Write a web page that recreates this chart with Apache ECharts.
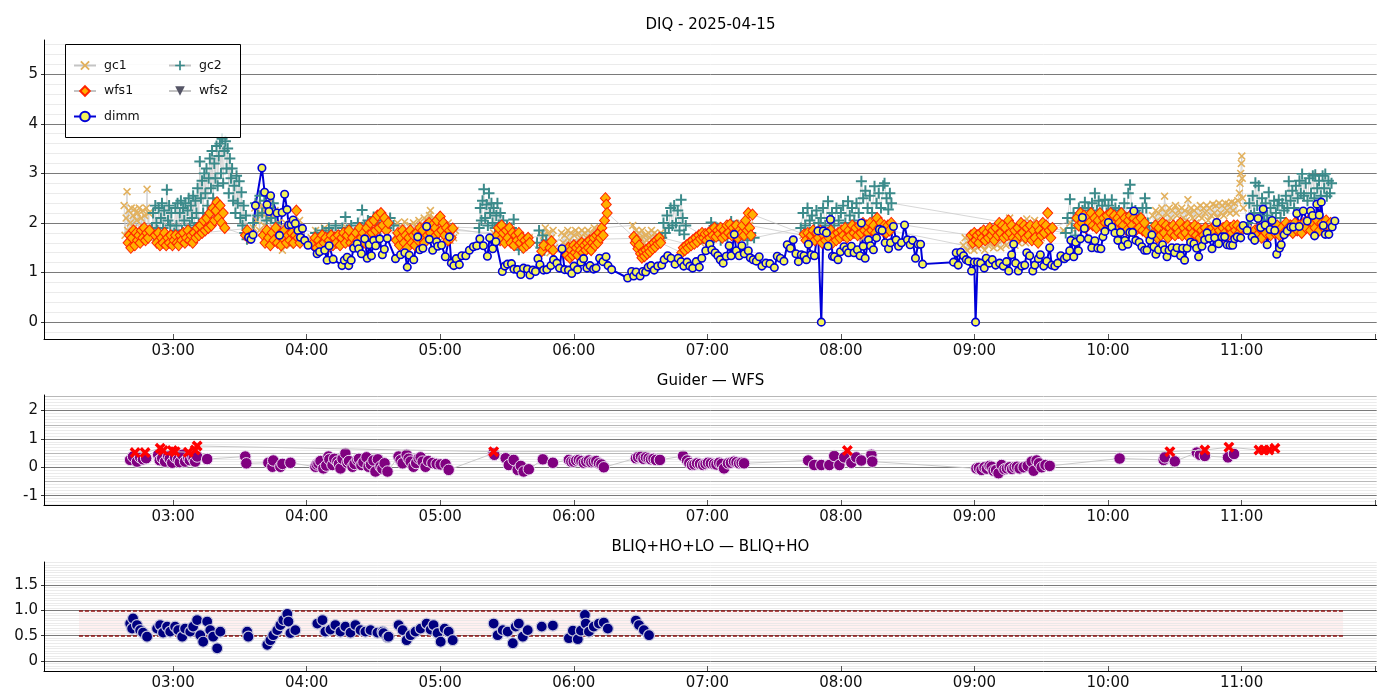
<!DOCTYPE html>
<html>
<head>
<meta charset="utf-8">
<title>DIQ - 2025-04-15</title>
<script src="https://cdn.jsdelivr.net/npm/echarts@6.0.0/dist/echarts.min.js"></script>
<style>
  html, body { margin: 0; padding: 0; background: #fff; }
  #grafico { width: 1400px; height: 700px; }
</style>
</head>
<body>
<div id="grafico"></div>
<script>
// all times are minutes after 00:00 UT

const dimm = [
  [213.9,1.71],[215.0,1.67],[215.9,1.76],[217.0,2.35],[219.9,3.11],[221.1,2.62],[222.2,2.37],[223.1,2.23],[223.8,2.55],
  [226.7,2.20],[227.8,1.75],[229.0,2.21],[230.1,2.58],[231.2,2.27],[231.9,1.96],[233.0,1.97],[233.9,2.06],[234.9,1.99],
  [236.1,1.85],[237.2,1.71],[238.1,1.89],[239.1,1.65],[240.6,1.55],[244.7,1.38],[245.8,1.42],[248.1,1.45],[249.2,1.25],
  [250.1,1.54],[251.9,1.27],[255.9,1.14],[256.9,1.25],[258.2,1.31],[258.9,1.14],[260.0,1.25],[261.1,1.49],[262.7,1.58],
  [263.4,1.48],[264.6,1.38],[266.1,1.68],[267.2,1.29],[268.1,1.56],[269.1,1.34],[270.1,1.65],[271.0,1.54],[272.8,1.68],
  [274.0,1.36],[274.9,1.47],[276.2,1.69],[279.9,1.28],[282.2,1.36],[284.1,1.40],[285.2,1.11],[286.1,1.35],[288.1,1.26],
  [289.9,1.72],[290.8,1.46],[292.2,1.49],[293.9,1.93],[295.1,1.67],[296.6,1.45],[298.4,1.62],[298.9,1.53],[300.6,1.55],
  [302.3,1.32],[304.1,1.72],[305.0,1.19],[306.1,1.14],[307.2,1.28],[308.6,1.16],[309.7,1.34],[311.5,1.34],[313.1,1.45],
  [314.9,1.52],[316.4,1.54],[317.8,1.68],[319.4,1.54],[321.2,1.33],[322.2,1.70],[323.6,1.48],[325.0,1.62],[327.9,1.02],
  [329.0,1.13],[330.2,1.17],[332.0,1.18],[333.1,1.07],[334.7,1.06],[336.2,0.96],[337.4,1.09],[339.2,1.07],[340.3,0.95],
  [341.6,1.05],[342.8,1.02],[343.9,1.28],[344.8,1.16],[346.4,1.05],[347.9,1.06],[349.7,1.14],[350.9,1.26],[352.4,1.19],
  [353.6,1.09],[354.7,1.48],[355.9,1.06],[357.6,1.05],[359.1,0.98],[360.1,1.13],[361.7,1.06],[363.2,1.21],[364.4,1.28],
  [365.9,1.09],[367.3,1.14],[368.9,1.07],[370.0,1.09],[371.6,1.29],[373.1,1.22],[374.5,1.32],[375.4,1.14],[377.0,1.06],
  [384.2,0.89],[386.0,1.02],[386.9,0.93],[388.0,1.01],[389.8,0.93],[391.0,1.02],[392.3,1.01],[393.4,1.11],[394.7,1.14],
  [396.1,1.05],[397.7,1.13],[399.5,1.15],[400.6,1.26],[402.2,1.34],[403.7,1.29],[405.5,1.17],[406.9,1.29],[408.2,1.22],
  [409.4,1.13],[410.9,1.21],[412.1,1.13],[413.4,1.09],[415.0,1.22],[416.4,1.11],[417.5,1.29],[419.3,1.44],[421.1,1.57],
  [422.0,1.46],[423.5,1.40],[424.7,1.34],[425.8,1.26],[427.1,1.19],[428.5,1.33],[429.8,1.54],[430.7,1.34],[432.1,1.77],
  [433.0,1.44],[434.3,1.34],[435.5,1.54],[436.6,1.38],[438.4,1.44],[439.3,1.30],[440.6,1.26],[442.0,1.23],[443.3,1.32],
  [444.5,1.13],[446.3,1.19],[448.1,1.18],[450.1,1.10],[451.4,1.33],[452.8,1.29],[454.4,1.23],[455.9,1.56],[457.3,1.49],
  [458.6,1.66],[459.8,1.38],[460.9,1.22],[462.2,1.36],[463.4,1.34],[464.5,1.26],[465.4,1.57],[466.7,1.36],[468.1,1.34],
  [469.7,1.84],[471.2,0.00],[472.1,1.84],[473.5,1.80],[474.2,1.53],[475.3,2.07],[476.2,1.33],[477.1,1.32],[478.7,1.26],
  [479.8,1.42],[481.4,1.52],[482.5,1.46],[483.4,1.40],[484.7,1.53],[485.9,1.40],[487.4,1.46],[488.6,1.34],[489.2,2.00],
  [490.0,1.53],[490.9,1.29],[492.4,1.66],[493.3,1.54],[494.6,1.46],[496.0,1.70],[497.3,1.87],[498.5,1.85],[499.9,1.60],
  [501.4,1.48],[502.3,1.60],[503.6,1.93],[504.8,1.66],[505.9,1.53],[507.2,1.60],[508.6,1.96],[509.9,1.66],[511.1,1.56],
  [512.2,1.65],[513.5,1.29],[514.7,1.57],[515.8,1.57],[516.7,1.17],[530.6,1.21],[531.8,1.40],[532.7,1.15],[533.8,1.41],
  [535.1,1.34],[536.3,1.26],[537.4,1.23],[538.7,1.03],[539.9,1.21],[540.5,0.00],[541.4,1.21],[542.8,1.19],[544.4,1.09],
  [545.3,1.29],[546.8,1.19],[548.0,1.26],[549.5,1.15],[551.3,1.19],[552.9,1.13],[554.4,1.22],[555.4,1.03],[556.7,1.36],
  [557.6,1.57],[558.5,1.19],[559.7,1.03],[561.2,1.13],[562.6,1.15],[563.5,1.40],[564.8,1.34],[566.2,1.03],[567.1,1.15],
  [568.7,1.28],[569.6,1.36],[571.1,1.13],[572.5,1.23],[573.8,1.50],[574.7,1.15],[576.1,1.13],[577.4,1.19],[578.8,1.34],
  [580.4,1.28],[581.5,1.32],[582.8,1.44],[583.3,1.65],[584.6,1.32],[585.5,1.61],[586.7,1.44],[587.6,1.68],[588.5,2.11],
  [589.4,1.89],[591.2,1.68],[592.7,1.50],[594.1,1.64],[595.4,1.49],[596.8,1.48],[597.7,1.72],[598.6,1.83],[600.2,2.01],
  [601.7,1.92],[603.1,1.80],[604.4,1.65],[605.6,1.81],[606.5,1.53],[607.6,1.65],[608.9,1.57],[609.8,1.81],[611.0,1.81],
  [611.6,2.24],[612.5,1.65],[614.0,1.61],[615.2,1.52],[616.4,1.45],[617.5,1.45],[618.8,1.65],[619.7,1.76],[620.6,1.52],
  [621.5,1.37],[622.7,1.46],[624.5,1.56],[625.4,1.46],[626.5,1.32],[627.4,1.45],[628.7,1.50],[629.9,1.40],[631.0,1.50],
  [632.6,1.34],[633.5,1.49],[634.4,1.25],[635.5,1.49],[637.1,1.61],[638.6,1.58],[639.8,1.49],[640.7,1.32],[642.2,1.53],
  [643.4,1.66],[644.5,1.80],[645.4,1.69],[646.7,1.48],[647.9,1.70],[648.8,2.01],[649.7,1.58],[651.2,1.72],[652.4,1.72],
  [653.5,1.56],[654.8,1.55],[656.0,1.55],[656.9,1.68],[658.0,1.72],[659.6,1.70],[660.7,1.95],[662.5,1.85],[663.8,2.11],
  [664.7,1.72],[665.9,1.65],[667.4,2.09],[668.6,1.91],[669.7,2.28],[670.6,1.96],[671.5,1.56],[672.8,1.87],[673.7,2.05],
  [674.9,1.85],[675.8,1.37],[677.0,1.49],[677.8,1.56],[679.1,1.76],[680.5,1.84],[682.1,1.92],[683.2,1.92],[684.8,2.19],
  [685.9,1.93],[687.7,2.24],[689.5,2.04],[691.0,2.24],[691.9,2.15],[692.8,1.74],[693.8,2.38],[694.9,2.16],[695.8,2.42],
  [696.7,1.95],[697.6,1.77],[699.2,1.77],[700.7,1.92],[701.9,2.04]
];

const gc1 = [
  [158.0,2.35],[158.4,1.75],[158.9,2.10],[159.3,2.63],[159.6,1.85],[160.0,2.25],[160.4,1.65],[160.8,2.00],[161.2,2.30],
  [161.6,1.80],[162.0,2.15],[162.4,1.90],[162.8,2.28],[163.2,1.70],[163.6,2.05],[164.0,2.20],[164.4,1.85],[164.8,2.30],
  [165.2,1.62],[165.6,2.10],[166.0,1.95],[166.4,2.25],[166.8,1.75],[167.2,2.15],[167.6,1.88],[168.0,2.30],[168.3,2.68],
  [168.7,1.90],[169.1,2.20],[169.5,1.70],
  [216.0,1.90],[216.7,2.30],[217.4,2.05],[218.1,2.40],[218.8,1.85],[219.5,2.20],[220.2,2.35],[220.9,1.95],[221.6,2.25],
  [222.3,2.10],[223.0,2.40],[223.7,1.80],[224.4,2.15],[225.1,1.90],[225.8,2.25],[226.5,1.70],[227.2,2.00],[227.9,1.60],
  [228.6,1.85],[229.1,1.45],[229.8,1.75],[230.5,2.00],[231.2,1.65],[231.9,1.90],[232.6,1.55],[233.3,1.80],[234.0,1.95],
  [234.7,1.60],[235.4,1.85],[236.1,1.70],[236.8,2.05],[237.5,1.75],
  [242,1.70],[244,1.85],[246,1.60],[248,1.90],[250,1.65],[252,1.80],[254,1.55],[256,1.75],[258,1.90],[260,1.60],
  [262,1.80],[264,1.70],[266,1.95],[268,1.75],[270,2.00],[272,1.85],[274,2.10],[276,1.90],
  [280.0,1.75],[280.8,2.00],[281.6,1.60],[282.4,1.90],[283.2,1.70],[284.0,2.02],[284.8,1.55],[285.6,1.85],[286.4,1.95],
  [287.2,1.65],[288.0,2.00],[288.8,1.75],[289.6,1.90],[290.4,2.05],[291.2,1.70],[292.0,1.95],[292.8,2.10],[293.6,1.80],
  [294.4,2.05],[295.2,2.15],[295.6,2.25],[296.4,1.90],[297.2,2.10],[298.0,1.75],[298.8,2.00],[299.6,1.85],[300.4,2.05],
  [301.2,1.70],[302.0,1.95],[302.8,1.80],[303.6,2.00],[304.4,1.65],[305.2,1.90],[306.0,1.70],[306.8,1.85],
  [324,1.80],[326,1.65],[328,1.90],[330,1.70],[332,1.85],[334,1.60],[336,1.75],[338,1.55],[340,1.70],
  [346.5,1.75],[347.2,1.90],[347.9,1.55],[348.6,1.80],[349.3,1.40],[350.0,1.70],[350.7,1.85],[351.4,1.50],
  [354.5,1.80],[355.2,1.60],[355.9,1.75],[356.6,1.55],[357.3,1.85],[358.0,1.65],[358.7,1.80],[359.4,1.60],[360.1,1.75],
  [360.8,1.85],[361.5,1.60],[362.2,1.80],[362.9,1.70],[363.6,1.85],[364.3,1.65],[365.0,1.80],[365.7,1.70],[366.4,1.85],
  [367.1,1.65],[367.8,1.80],[368.5,1.75],[369.2,1.90],[369.9,1.70],[370.6,1.85],[371.3,1.75],[372.0,1.90],
  [386.5,1.95],[387.2,1.70],[387.9,1.85],[388.6,1.65],[389.3,1.80],[390.0,1.70],[390.7,1.85],[391.4,1.60],[392.1,1.75],
  [392.8,1.65],[393.5,1.80],[394.2,1.70],[394.9,1.85],[395.6,1.65],[396.3,1.80],[397.0,1.70],[397.7,1.75],[398.4,1.65],
  [399.1,1.80],[399.8,1.70],
  [413,1.55],[415,1.70],[417,1.60],[419,1.80],[421,1.70],[423,1.90],[425,1.75],[427,1.95],[429,1.80],[431,1.90],
  [433,1.75],[435,2.00],[437,1.85],[439,1.95],
  [463,1.75],[466,1.65],[469,1.85],[472,1.70],[475,1.80],[478,1.65],[481,1.90],[484,1.75],[487,1.85],[490,1.70],
  [493,1.90],[496,1.80],[499,1.95],[502,1.85],
  [535.0,1.55],[535.8,1.70],[536.6,1.45],[537.4,1.65],[538.2,1.50],[539.0,1.75],[539.8,1.45],[540.6,1.60],[541.4,1.50],
  [542.2,1.70],[543.0,1.55],[543.8,1.65],[544.6,1.45],[545.4,1.70],[546.2,1.55],[547.0,1.60],[547.8,1.75],[548.6,1.50],
  [549.4,1.65],[550.2,1.55],[551.0,1.70],[551.8,1.50],[552.6,1.65],[553.4,1.80],[554.2,1.55],[555.0,1.70],[555.8,2.10],
  [556.6,1.60],[557.4,1.75],[558.2,1.55],[559.0,1.70],[559.8,1.60],[560.6,1.80],[561.4,1.65],[562.2,1.75],[563.0,1.60],
  [563.5,2.08],[564.0,1.85],[565.0,1.70],[566.0,1.80],[567.0,2.05],[568.0,1.75],[569.0,1.90],[570.0,1.70],[571.0,1.85],
  [572.0,1.75],[573.0,1.90],
  [580,1.85],[583,2.00],[586,1.90],[589,2.10],[592,1.95],[595,2.05],[598,1.90],[601,2.10],[604,1.95],[607,2.05],
  [610,1.90],[613,2.00],[616,1.85],
  [620.0,2.15],[620.7,1.95],[621.4,2.25],[622.1,2.05],[622.8,2.20],[623.5,1.95],[624.2,2.30],[624.9,2.10],[625.4,2.54],
  [626.1,2.20],[626.8,2.00],[627.5,2.30],[628.2,2.10],[628.9,2.25],[629.6,1.95],[630.3,2.35],[631.0,2.15],[631.7,2.25],
  [632.4,2.00],[633.1,2.30],[633.8,2.10],[634.5,2.25],[635.2,2.05],[635.9,2.47],[636.6,2.20],[637.3,2.30],[638.0,2.10],
  [638.7,2.25],[639.4,2.00],[640.1,2.30],[640.8,2.15],[641.5,2.35],[642.2,2.10],[642.9,2.30],[643.6,2.20],[644.3,2.35],
  [645.0,2.05],[645.7,2.30],[646.4,2.15],[647.1,2.38],[647.8,2.20],[648.5,2.35],[649.2,2.10],[649.9,2.40],[650.6,2.20],
  [651.3,2.35],[652.0,2.15],[652.7,2.40],[653.4,2.25],[654.1,2.38],[654.8,2.20],[655.5,2.42],[656.2,2.25],[656.9,2.40],
  [657.6,2.20],[658.3,2.45],[659.0,2.60],[659.3,2.80],[659.6,3.00],[659.9,3.20],[660.1,3.35],[660.3,2.90],[660.5,2.50],
  [660.8,2.30],
  [665,1.90],[668,2.00],[671,1.85],[674,1.95],[677,1.80],[680,1.90],[683,2.00],[686,1.85],[689,1.95],[692,2.05],
  [695,1.90],[698,2.00]
];

const gc2 = [
  [170.5,1.90],[171.0,2.20],[171.5,1.75],[172.0,2.35],[172.5,2.00],[173.0,1.85],[173.5,2.30],[174.0,1.70],[174.5,2.10],
  [175.0,2.40],[175.5,1.90],[176.0,2.25],[176.5,1.80],[177.2,2.67],[177.7,2.05],[178.2,2.35],[178.7,1.95],[179.2,2.20],
  [179.7,1.75],
  [180.5,1.80],[181.0,2.30],[181.5,1.95],[182.0,2.40],[182.5,1.70],[183.0,2.20],[183.5,2.45],[184.0,1.85],[184.5,2.30],
  [185.0,2.05],[185.5,2.40],[186.0,1.80],[186.5,2.25],[187.0,2.50],[187.5,1.95],[188.0,2.35],[188.5,2.10],[189.0,2.55],
  [189.5,1.90],[190.0,2.45],[190.5,2.20],[191.0,2.70],[191.5,2.00],[192.0,3.24],[192.5,2.50],[193.0,2.85],[193.5,2.20],
  [194.0,3.00],[194.5,2.60],[195.0,3.10],[195.5,2.35],[196.0,2.90],[196.5,3.30],[197.0,2.70],[197.5,3.45],[198.0,2.50],
  [198.5,3.20],[199.0,2.90],[199.5,3.55],[200.0,2.75],[200.5,3.35],[201.0,3.60],[201.5,3.00],[202.0,3.70],[202.5,2.80],
  [203.0,3.45],[203.5,3.65],[204.0,3.10],[204.5,3.50],[205.0,2.60],[205.5,3.30],[206.0,2.90],[206.5,3.10],[207.0,2.45],
  [207.5,2.75],[208.0,2.20],[208.5,2.95],[209.0,2.40],[209.7,2.84],[210.2,2.10],[210.7,2.62],[211.2,1.95],[211.7,2.35],
  [212.2,1.80],[212.7,2.15],[213.2,1.67],
  [216,2.00],[217,2.40],[218,2.15],[219,2.55],[220,2.20],[221,2.45],[222,2.05],[223,2.30],[224,2.10],[225,2.40],[226,2.00],
  [244.0,1.80],[245.5,1.70],[247.0,1.85],[248.5,1.75],[250.0,1.90],[251.5,1.80],[253.0,1.95],[254.5,1.75],[256.0,1.90],
  [257.4,2.12],[258.5,1.85],[260.0,1.95],[261.5,1.80],[263.0,2.00],[264.9,2.26],[266.0,1.95],[267.5,2.05],[269.0,1.90],
  [270.1,2.12],[271.5,2.00],[273.0,1.85],[274.5,2.05],[276.0,1.90],[277.5,2.10],[279.0,1.95],
  [317.5,1.90],[318.0,2.30],[318.5,2.05],[319.0,2.45],[319.6,2.68],[320.2,2.10],[320.8,2.37],[321.4,1.95],[321.9,2.60],
  [322.4,2.20],[323.0,2.40],[323.5,2.00],[324.0,2.30],[324.6,1.90],[325.2,2.15],[325.7,2.40],[326.3,1.95],[327.0,2.20],
  [327.6,1.85],[328.3,2.05],[329.0,1.80],[330.0,1.95],[331.0,1.75],[332.0,1.90],[333.0,2.07],[334.0,1.70],[335.3,1.46],
  [336.0,1.65],[337.0,1.50],
  [343.5,1.60],[344.4,1.85],[345.2,1.50],[346.0,1.75],[346.8,1.45],[347.6,1.65],
  [399.5,1.70],[400.3,2.00],[401.1,1.80],[401.9,2.15],[402.7,1.90],[403.5,2.30],[404.3,1.95],[405.1,2.35],[405.9,2.00],
  [406.7,2.25],[407.5,1.85],[408.2,2.47],[408.9,2.10],[409.6,1.77],[410.3,1.95],
  [418.0,1.75],[419.5,1.60],[421.0,1.85],[421.7,2.01],[423.0,1.70],[424.5,1.90],[426.0,1.65],[427.5,1.85],[429.0,1.70],
  [430.7,2.03],[432.0,1.80],[433.5,1.95],[435.0,1.75],[436.5,1.85],[438.0,1.65],[439.5,1.80],[441.0,1.70],
  [462,1.90],[463,2.20],[464,1.95],[465,2.30],[466,2.05],[467,2.15],[468,1.90],[469,2.25],[470,2.00],[471,2.10],
  [472,2.30],[473,1.95],[474.2,2.44],[475,2.10],[476,2.20],[477,1.95],[478,2.30],[479,2.05],[480,2.20],[481,2.35],
  [482,2.00],[483.2,2.44],[484,2.15],[485,2.30],[486,2.05],[487,2.40],[488,2.20],[489.2,2.84],[490,2.50],[491,2.65],
  [492,2.30],[493,2.55],[494,2.20],[495.1,2.74],[496,2.40],[497,2.60],[498,2.30],[499,2.75],[499.6,2.80],[500.5,2.50],
  [501.3,2.27],[502,2.60],[502.7,2.40],
  [581.0,1.80],[581.8,2.10],[582.9,2.48],[583.7,1.90],[584.5,2.20],[585.3,1.75],[586.1,2.05],[586.9,2.30],[587.7,1.95],
  [588.5,2.25],[589.6,2.42],[590.4,2.05],[591.2,2.30],[592.0,2.15],[592.8,2.40],[593.5,2.10],[594.1,2.60],[595.0,2.25],
  [595.8,2.45],[596.6,2.10],[597.4,2.35],[598.6,2.47],[599.4,2.20],[600.2,2.35],[601.0,2.10],[601.7,2.47],[602.5,2.20],
  [603.3,2.30],[604.1,2.05],[604.9,2.25],[605.7,1.95],[606.5,2.20],[607.3,2.40],[608.1,2.10],[609.1,2.60],[609.9,2.77],
  [610.7,2.30],[611.5,2.10],[612.3,2.25],[613.1,1.90],[613.9,2.15],[614.7,2.00],[615.5,2.30],[616.6,2.50],[617.2,2.30],
  [617.9,2.00],[618.6,1.85],
  [662.8,2.00],[663.5,2.40],[664.2,2.15],[665.0,2.55],[665.7,2.20],[666.2,2.81],[667.0,2.35],[667.7,2.75],[668.5,2.20],
  [669.2,2.50],[670.0,2.05],[670.8,2.40],[671.5,2.15],[672.2,2.62],[673.0,2.30],[673.8,2.10],[674.6,2.45],[675.4,2.20],
  [676.2,2.35],[676.7,2.47],[677.5,2.10],[678.3,2.40],[679.1,2.25],[679.9,2.55],[680.6,2.30],[681.2,2.84],[682.0,2.45],
  [682.8,2.65],[683.6,2.30],[684.4,2.75],[685.2,2.50],[686.0,2.85],[686.6,2.60],[687.2,2.99],[688.0,2.55],[688.8,2.80],
  [689.6,2.45],[690.4,2.90],[691.2,2.60],[692.0,2.95],[692.7,2.50],[693.1,2.97],[694.0,2.70],[694.8,2.85],[695.6,2.55],
  [696.4,2.95],[697.1,2.70],[697.6,2.99],[698.3,2.54],[699.0,2.85],[699.7,2.60],[700.4,2.80]
];

const wfs1 = [
  [159.8,1.60],[160.4,1.75],[161.0,1.50],[161.6,1.70],[162.2,1.85],[162.8,1.55],[163.4,1.80],[164.0,1.65],[164.6,1.75],
  [165.2,1.60],[165.8,1.85],[166.4,1.70],[167.0,1.90],[167.6,1.65],[168.2,1.80],[168.8,1.70],[169.4,1.85],
  [172.0,1.75],[172.7,1.60],[173.4,1.80],[174.1,1.55],[174.8,1.70],[175.5,1.60],[176.2,1.80],[176.9,1.55],[177.6,1.70],
  [178.3,1.60],[179.0,1.75],[179.7,1.55],[180.4,1.65],[181.1,1.75],[181.8,1.60],[182.5,1.55],[183.2,1.75],[183.9,1.65],
  [184.6,1.80],[185.3,1.60],[186.0,1.70],[186.7,1.85],[187.4,1.65],[188.1,1.75],[188.8,1.60],[189.5,1.80],[190.2,1.70],
  [190.9,1.90],[191.6,1.75],[192.3,1.95],[193.0,1.80],[193.7,2.05],[194.4,1.85],[195.1,2.10],[195.8,1.90],[196.5,2.20],
  [197.2,1.95],[197.9,2.30],[198.6,2.05],[199.3,2.25],[199.7,2.42],[200.4,2.10],[201.1,2.35],[201.8,2.00],[202.5,2.20],
  [203.2,1.90],
  [212.5,1.75],[213.3,1.85],[214.0,1.70],
  [220.5,1.75],[221.3,1.60],[222.1,1.85],[222.9,1.70],[223.7,1.55],[224.5,1.80],[225.3,1.65],[226.1,1.90],[226.9,1.60],
  [227.7,1.75],[228.5,1.55],[229.3,1.70],[230.1,1.85],[230.9,1.60],[231.7,1.75],[232.5,1.65],[233.3,1.80],[234.1,1.60],
  [234.9,1.75],[235.4,2.25],[236.2,1.70],[237.0,1.60],
  [243.0,1.60],[243.8,1.70],[244.6,1.50],[245.4,1.65],[246.2,1.55],[247.0,1.75],[247.8,1.60],[248.6,1.70],[249.4,1.50],
  [250.2,1.65],[251.0,1.75],[251.8,1.55],[252.6,1.70],[253.4,1.60],[254.2,1.75],[255.0,1.55],[255.8,1.70],[256.6,1.80],
  [257.4,1.60],[258.2,1.75],[259.0,1.85],[259.8,1.60],[260.6,1.70],[261.4,1.55],[262.2,1.80],[263.0,1.65],[263.8,1.90],
  [264.6,1.70],[265.4,1.80],[266.2,1.60],[267.0,1.90],[267.8,1.75],[268.6,2.00],[269.4,1.80],[270.2,2.05],[271.0,1.85],
  [271.8,2.15],[272.6,1.90],[273.4,2.20],[274.2,1.95],[275.0,2.10],[275.8,1.85],[276.6,2.00],
  [280.3,1.65],[281.0,1.80],[281.7,1.55],[282.4,1.70],[283.1,1.85],[283.8,1.60],[284.5,1.75],[285.2,1.50],[285.9,1.70],
  [286.6,1.85],[287.3,1.60],[288.0,1.75],[288.7,1.55],[289.4,1.80],[290.1,1.65],[290.8,1.90],[291.5,1.70],[292.2,1.85],
  [292.9,1.60],[293.6,1.95],[294.3,1.75],[295.0,2.00],[295.7,1.80],[296.4,1.95],[297.1,1.70],[297.8,1.90],[298.5,2.05],
  [299.2,1.80],[300.0,2.13],[300.7,1.85],[301.4,2.00],[302.1,1.75],[302.8,1.90],[303.5,1.65],[304.2,1.85],[304.9,1.70],
  [305.6,1.89],
  [325.5,1.75],[326.2,1.90],[326.9,1.65],[327.6,1.95],[328.3,1.80],[329.0,1.60],[329.7,1.85],[330.4,1.70],[331.1,1.90],
  [331.8,1.60],[332.5,1.80],[333.2,1.55],[333.9,1.75],[334.6,1.65],[335.3,1.80],[336.0,1.60],[336.7,1.70],[337.4,1.50],
  [338.1,1.65],[338.8,1.55],[339.5,1.70],[340.2,1.60],
  [345.6,1.43],[346.5,1.55],[349.3,1.50],[350.0,1.63],[350.7,1.45],
  [357.0,1.35],[357.6,1.50],[358.2,1.30],[358.8,1.45],[359.4,1.35],[360.0,1.55],[360.6,1.40],[361.2,1.50],[361.8,1.35],
  [362.4,1.55],[363.0,1.45],[363.6,1.60],[364.2,1.40],[364.8,1.55],[365.4,1.45],[366.0,1.60],[366.6,1.50],[367.2,1.65],
  [367.8,1.45],[368.4,1.60],[369.0,1.70],[369.6,1.55],[370.2,1.75],[370.8,1.60],[371.4,1.80],[372.0,1.70],[372.6,1.90],
  [373.2,1.75],[373.8,2.05],[374.2,2.50],[374.6,2.37],[375.0,2.20],
  [387.0,1.72],[387.6,1.60],[388.2,1.65],[388.8,1.48],[389.4,1.55],[390.0,1.38],[390.6,1.30],[391.2,1.42],[391.8,1.33],
  [392.4,1.45],[393.0,1.38],[393.6,1.50],[394.2,1.42],[394.8,1.55],[395.4,1.48],[396.0,1.60],[396.6,1.52],[397.2,1.65],
  [397.8,1.58],[398.4,1.70],[399.0,1.60],
  [408.5,1.40],[409.2,1.50],[409.9,1.45],[410.6,1.55],[411.3,1.50],[412.0,1.60],[412.7,1.55],[413.4,1.65],[414.1,1.58],
  [414.8,1.70],[415.5,1.62],[416.2,1.75],[416.9,1.68],[417.6,1.80],[418.3,1.70],[419.0,1.78],[419.7,1.65],[420.4,1.80],
  [421.1,1.70],[421.8,1.85],[422.5,1.75],[423.2,1.90],[423.9,1.72],[424.6,1.85],[425.3,1.78],[426.0,1.90],[426.7,1.70],
  [427.4,1.85],[428.1,1.75],[428.8,1.95],[429.5,1.80],[430.2,1.97],[430.9,1.75],[431.6,1.90],[432.3,1.80],[433.0,1.95],
  [433.7,1.70],[434.4,1.85],[435.1,1.78],[435.8,1.95],[436.5,1.75],[437.2,2.05],[437.9,1.85],[438.4,2.20],[439.0,1.90],
  [439.6,1.75],[440.3,2.17],
  [463.5,1.77],[464.3,1.65],[465.1,1.80],[465.9,1.60],[466.7,1.75],[467.5,1.85],[468.3,1.65],[469.1,1.80],[469.9,1.70],
  [470.7,1.85],[471.5,1.60],[472.3,1.75],[473.1,1.65],[473.9,1.80],[474.7,1.70],[475.5,1.85],[476.3,1.60],[477.1,1.75],
  [477.9,1.65],[478.7,1.80],[479.5,1.70],[480.3,1.85],[481.1,1.75],[481.9,1.90],[482.7,1.70],[483.5,1.85],[484.3,1.75],
  [485.1,1.95],[485.9,1.80],[486.7,1.90],[487.5,1.75],[488.3,1.95],[489.1,1.80],[489.9,2.00],[490.7,1.85],[491.5,1.95],
  [492.3,1.80],[493.1,2.00],[493.9,1.85],[494.7,1.95],[495.5,1.80],[496.3,2.10],[497.1,1.90],[497.9,2.00],[498.7,1.85],
  [499.5,1.95],[500.3,1.80],[501.1,1.95],[501.9,1.85],[502.6,2.00],
  [538.5,1.75],[539.2,1.60],[539.9,1.80],[540.6,1.65],[541.3,1.75],[542.0,1.60],[542.7,1.80],[543.4,1.70],[544.1,1.85],
  [544.8,1.65],[545.5,1.80],[546.2,1.70],[546.9,1.90],[547.6,1.75],[548.3,1.85],[549.0,1.65],[549.7,1.90],[550.4,1.75],
  [551.1,2.00],[551.8,1.80],[552.5,1.95],[553.2,1.70],[553.9,1.90],[554.6,1.75],[555.3,2.05],[556.0,1.80],[556.7,1.95],
  [557.4,1.70],[558.1,1.85],[558.8,1.65],[559.5,1.90],[560.2,1.75],[560.9,2.00],[561.6,1.80],[562.3,1.95],[563.0,1.70],
  [563.7,1.90],[564.4,1.75],[565.1,1.95],[565.8,1.65],[566.5,1.85],[567.2,1.70],[567.9,1.95],[568.6,1.60],[569.3,1.85],
  [570.0,1.75],[570.7,2.00],[571.4,1.80],[572.1,1.95],[572.9,2.20],[573.6,1.85],[574.3,1.70],[575.0,1.90],
  [586.0,2.10],[586.8,1.95],[587.6,2.20],[588.4,2.00],[589.2,2.15],[590.0,1.90],[590.8,2.10],[591.6,2.00],[592.4,2.20],
  [593.2,1.95],[594.0,2.10],[594.8,1.90],[595.6,2.05],[596.4,2.20],[597.2,1.95],[598.0,2.10],[598.8,2.00],[599.6,2.15],
  [600.4,1.95],[601.2,2.20],[602.0,2.05],[602.8,2.15],[603.6,1.90],[604.4,2.10],[605.2,2.00],[606.0,2.20],[606.8,1.95],
  [607.6,2.10],[608.4,1.85],[609.2,2.05],[610.0,2.15],[610.8,1.95],[611.6,2.10],[612.4,1.85],[613.2,2.05],[614.0,1.90],
  [614.8,2.10],[615.6,1.85],[616.4,2.00],[617.2,1.80],
  [620.5,1.80],[621.3,1.95],[622.1,1.70],[622.9,1.90],[623.7,1.75],[624.5,2.00],[625.3,1.80],[626.1,1.95],[626.9,1.70],
  [627.7,1.90],[628.5,1.80],[629.3,1.95],[630.1,1.75],[630.9,1.90],[631.7,1.80],[632.5,2.00],[633.3,1.75],[634.1,1.90],
  [634.9,1.80],[635.7,1.95],[636.5,1.70],[637.3,1.90],[638.1,1.80],[638.9,1.95],[639.7,1.75],[640.5,1.90],[641.3,1.70],
  [642.1,1.85],[642.9,1.75],[643.7,1.90],[644.5,1.70],[645.3,1.85],[646.1,1.75],[646.9,1.90],[647.7,1.80],[648.5,1.95],
  [649.3,1.75],[650.1,1.85],[650.9,1.70],[651.7,1.90],[652.5,1.80],[653.3,1.95],[654.1,1.75],[654.9,1.90],[655.7,1.80],
  [656.5,1.95],[657.3,1.85],[658.1,1.95],[658.9,1.80],[659.7,1.90],
  [666,1.85],[667,1.75],[668,1.90],[669,1.70],[670,1.85],[671,1.80],[672,1.95],[673,1.75],[674,1.90],[675,1.80],
  [676,1.95],[677,1.75],[678,1.90],[679,1.80],[680,2.00],[681,1.85],[682,1.95],[683,1.80],[684,2.00],[685,1.85],
  [686,1.95],[687,1.80],[688,2.00],[689,1.90],[690,2.05],[691,1.85],[692,2.00],[693,1.90],[694,2.05],[695,1.85],
  [696,2.00],[697,1.90],[698,2.05],[699,1.95],[700,2.00]
];

const wfs2 = [];

// Guider — WFS
const guiderWfs = [
  [160.7,0.26],[162.0,0.38],[163.8,0.20],[165.2,0.35],[166.5,0.28],[167.9,0.32],
  [173.3,0.44],[174.0,0.25],[175.1,0.32],[176.4,0.20],[177.8,0.38],[178.5,0.30],[179.6,0.16],[180.9,0.35],[182.3,0.28],
  [183.0,0.18],[184.1,0.44],[185.4,0.20],[186.8,0.32],[187.5,0.25],[188.6,0.40],[189.2,0.30],[189.9,0.20],[190.8,0.38],
  [195.3,0.29],[212.4,0.38],[212.9,0.14],
  [222.8,0.16],[224.6,0.02],[225.0,0.24],[228.2,0.02],[229.1,0.12],[232.7,0.16],
  [243.9,0.02],[244.5,0.10],[245.3,0.14],[246.2,0.22],[247.5,-0.04],[248.8,0.06],[249.8,0.38],[250.2,0.28],[251.6,0.08],
  [252.4,0.30],[253.8,0.20],[254.5,0.12],[255.2,-0.04],[256.1,0.30],[257.4,0.49],[258.3,0.16],[259.0,0.22],[260.6,0.02],
  [261.5,0.12],[262.8,0.26],[263.5,0.30],[264.6,0.08],[265.5,0.18],[266.9,0.35],[267.8,0.02],[268.9,0.10],[270.0,0.24],
  [270.9,-0.15],[272.0,0.28],[273.2,0.02],[274.0,-0.05],[275.0,0.14],[276.3,-0.15],
  [281.3,0.38],[282.2,0.25],[283.1,0.14],[284.9,0.44],[285.8,0.30],[286.7,0.20],[288.0,0.02],[289.2,0.15],[290.3,0.32],
  [291.2,0.35],[292.1,0.20],[293.4,0.02],[294.6,0.22],[296.5,0.15],[298.4,0.12],[300.2,0.10],[302.4,0.11],[303.8,-0.09],
  [323.8,0.49],[324.3,0.44],[329.4,0.32],[330.8,0.08],[333.0,0.26],[334.8,-0.09],[336.2,0.05],[337.5,-0.15],[339.8,-0.07],
  [346.1,0.28],[350.6,0.16],
  [357.8,0.26],[358.9,0.20],[360.0,0.20],[361.1,0.24],[362.3,0.26],[363.4,0.22],[364.5,0.16],[365.6,0.20],[366.8,0.24],
  [367.9,0.18],[369.0,0.20],[370.1,0.22],[371.3,0.14],[372.4,0.10],[373.5,0.00],
  [387.9,0.32],[388.9,0.36],[390.2,0.38],[391.3,0.30],[392.4,0.35],[393.6,0.32],[394.7,0.28],[395.8,0.30],[396.9,0.26],
  [398.7,0.26],
  [409.1,0.40],[410.9,0.24],[411.9,0.15],[413.1,0.08],[414.2,0.10],[415.4,0.14],[416.7,0.12],[418.1,0.08],[419.2,0.12],
  [420.3,0.16],[421.6,0.14],[423.0,0.12],[424.1,0.10],[425.3,0.16],[426.4,0.12],[427.5,-0.04],[429.3,0.14],[430.6,0.16],
  [432.0,0.20],[433.1,0.18],[434.3,0.14],[435.4,0.16],[436.5,0.14],
  [465.3,0.24],[468.0,0.08],[471.2,0.08],[474.8,0.08],[477.0,0.40],[479.3,0.08],[481.5,0.35],[484.7,0.16],[486.9,0.35],
  [489.2,0.24],[493.7,0.44],[494.1,0.20],
  [540.9,-0.04],[542.0,-0.02],[543.2,-0.09],[544.5,0.00],[545.6,-0.05],[546.8,0.05],[547.7,0.02],[548.6,-0.12],
  [549.7,-0.10],[550.8,-0.21],[552.2,0.08],[553.5,-0.07],[554.6,-0.04],[555.8,0.00],[556.9,-0.06],[558.0,0.00],
  [559.1,0.02],[560.3,-0.04],[562.1,0.00],[563.9,0.05],[565.7,0.20],[566.6,-0.12],[567.9,0.24],[569.0,0.14],[570.2,0.00],
  [571.9,0.08],[573.8,0.05],
  [605.2,0.31],[625.0,0.26],[625.5,0.35],[630.0,0.21],[639.9,0.52],[641.3,0.44],[643.5,0.40],[653.9,0.35],[656.6,0.47]
];

const guiderFlag = [
  [162.9,0.52],[167.4,0.52],[174.2,0.67],[175.5,0.59],[179.6,0.59],[180.9,0.55],[186.8,0.53],[189.9,0.61],[190.8,0.75],
  [324.0,0.55],[482.9,0.59],[627.8,0.55],[643.5,0.61],[654.3,0.71],[667.8,0.61],[670.1,0.61],[672.3,0.61],[675.0,0.67]
];

// BLIQ+HO+LO — BLIQ+HO
const bliq = [
  [160.7,0.74],[161.6,0.64],[162.0,0.84],[163.8,0.71],[165.2,0.61],[166.5,0.56],[168.3,0.48],
  [172.8,0.64],[174.2,0.71],[175.5,0.56],[177.3,0.68],[178.7,0.58],[180.9,0.68],[182.3,0.61],[184.1,0.48],[185.4,0.64],
  [187.7,0.58],[189.0,0.68],[190.8,0.81],[192.2,0.51],[193.5,0.38],[195.3,0.78],[196.7,0.61],[198.0,0.48],[199.8,0.25],
  [201.2,0.58],
  [213.3,0.58],[213.8,0.48],
  [222.3,0.32],[223.7,0.41],[225.0,0.51],[226.8,0.61],[228.2,0.71],[229.5,0.81],[231.3,0.93],[231.8,0.78],[232.7,0.55],
  [234.9,0.61],
  [244.8,0.74],[247.1,0.81],[248.4,0.58],[250.7,0.62],[252.9,0.71],[255.2,0.58],[257.4,0.68],[259.7,0.56],[261.9,0.71],
  [264.2,0.61],[266.4,0.58],[268.7,0.61],[271.8,0.56],[274.1,0.58],[274.5,0.55],[276.3,0.47],[276.8,0.48],
  [281.3,0.71],[283.1,0.61],[284.9,0.41],[286.7,0.51],[288.9,0.58],[291.2,0.64],[293.9,0.74],[295.7,0.62],[297.0,0.71],
  [298.8,0.55],[300.2,0.38],[302.0,0.64],[303.8,0.58],[305.6,0.41],
  [324.0,0.74],[325.8,0.51],[328.1,0.61],[330.3,0.58],[332.6,0.35],[333.9,0.68],[335.3,0.74],[337.1,0.48],[339.3,0.61],
  [345.6,0.68],[350.6,0.70],
  [357.8,0.45],[359.6,0.60],[361.8,0.43],[363.2,0.60],[365.0,0.91],[365.4,0.74],[366.8,0.58],[369.0,0.68],[371.3,0.74],
  [373.5,0.76],[375.3,0.64],
  [387.9,0.80],[389.3,0.71],[391.5,0.61],[393.8,0.51]
];
const bliqBand = [137.7, 705.6];   // window of the reference band
const bliqLimits = [0.5, 1.0];

const hourTicks = [180, 240, 300, 360, 420, 480, 540, 600, 660, 720];
const hourLabels = [180, 240, 300, 360, 420, 480, 540, 600, 660];

const X_MIN = 122, X_MAX = 720.7;
const FONTE = 'DejaVu Sans';

const symX = 'path://M0,1.4L1.4,0L5,3.6L8.6,0L10,1.4L6.4,5L10,8.6L8.6,10L5,6.4L1.4,10L0,8.6L3.6,5Z';
const symXGrosso = 'path://M0,2.2L2.2,0L5,2.8L7.8,0L10,2.2L7.2,5L10,7.8L7.8,10L5,7.2L2.2,10L0,7.8L2.8,5Z';
const symMais = 'path://M4.1,0H5.9V4.1H10V5.9H5.9V10H4.1V5.9H0V4.1H4.1Z';
const symTriBaixo = 'path://M0,0L10,0L5,9Z';

function hhmm(m) {
  const h = Math.floor(m / 60), mm = Math.round(m % 60);
  return String(h).padStart(2, '0') + ':' + String(mm).padStart(2, '0');
}

function passos(ini, fim, passo) {
  const out = [];
  for (let k = Math.round(ini / passo); k * passo <= fim + 1e-9; k++) out.push(+(k * passo).toFixed(3));
  return out;
}

// grid lines are drawn as markLines so they stay aligned to 0 whatever the axis limits
function linhasGrade(idx, menores, medias, maiores) {
  const linha = (v, cor, w) => ({ yAxis: v, lineStyle: { color: cor, width: w, type: 'solid' } });
  const dados = menores.map(v => linha(v, '#e6e6e6', 0.8))
    .concat(medias.map(v => linha(v, '#b8b8b8', 1)))
    .concat(maiores.map(v => linha(v, '#7a7a7a', 1)));
  return {
    type: 'line', xAxisIndex: idx, yAxisIndex: idx, data: [], z: 0, silent: true,
    markLine: { z: 0, silent: true, symbol: ['none', 'none'], label: { show: false }, animation: false, data: dados }
  };
}

function eixoX(idx) {
  return {
    type: 'value', gridIndex: idx, min: X_MIN, max: X_MAX,
    axisLine: { show: true, onZero: false, lineStyle: { color: '#000', width: 1 } },
    axisTick: { show: true, inside: true, length: 5, lineStyle: { color: '#555' }, customValues: hourTicks },
    axisLabel: { customValues: hourLabels, formatter: hhmm, fontFamily: FONTE, fontSize: 15, color: '#111', margin: 5 },
    splitLine: { show: false }
  };
}

function eixoY(idx, min, max, rotulos, fmt) {
  return {
    type: 'value', gridIndex: idx, min: min, max: max,
    axisLine: { show: true, lineStyle: { color: '#000', width: 1 } },
    axisTick: { show: true, length: 3, lineStyle: { color: '#333' }, customValues: rotulos },
    axisLabel: { customValues: rotulos, formatter: fmt, fontFamily: FONTE, fontSize: 15, color: '#111', margin: 6 },
    splitLine: { show: false }
  };
}

const myChart = echarts.init(document.getElementById('grafico'), null, { renderer: 'canvas' });

const cinzaFino = { color: '#c4c4c4', width: 0.7 };
const textoLegenda = { fontFamily: FONTE, fontSize: 12.5, color: '#111', padding: [0, 0, 0, 3] };

myChart.setOption({
  animation: false,
  backgroundColor: '#fff',
  grid: [
    { left: 44, right: 23.3, top: 40, height: 299 },
    { left: 44, right: 23.3, top: 395, height: 110 },
    { left: 44, right: 23.3, top: 562, height: 109 }
  ],
  xAxis: [eixoX(0), eixoX(1), eixoX(2)],
  yAxis: [
    eixoY(0, -0.34, 5.69, [0, 1, 2, 3, 4, 5], v => String(v)),
    eixoY(1, -1.33, 2.55, [-1, 0, 1, 2], v => String(v)),
    eixoY(2, -0.2, 1.96, [0, 0.5, 1, 1.5], v => (v === 0 ? '0' : v.toFixed(1)))
  ],
  legend: [
    {
      data: ['gc1', 'wfs1', 'dimm'], orient: 'vertical', left: 73, top: 59, padding: 0,
      itemWidth: 22, itemHeight: 12, itemGap: 12.5, selectedMode: false, z: 5, textStyle: textoLegenda
    },
    {
      data: ['gc2', 'wfs2'], orient: 'vertical', left: 168, top: 59, padding: 0,
      itemWidth: 22, itemHeight: 12, itemGap: 12.5, selectedMode: false, z: 5, textStyle: textoLegenda
    }
  ],
  graphic: [
    { type: 'rect', z: 3, shape: { x: 65.5, y: 44.5, width: 175, height: 93 },
      style: { fill: 'rgba(255,255,255,0.8)', stroke: '#000', lineWidth: 1 } },
    { type: 'text', x: 710.5, y: 25, z: 5,
      style: { text: 'DIQ - 2025-04-15', fill: '#000', fontSize: 15, fontFamily: FONTE, align: 'center', verticalAlign: 'middle' } },
    { type: 'text', x: 710.5, y: 381, z: 5,
      style: { text: 'Guider — WFS', fill: '#000', fontSize: 15, fontFamily: FONTE, align: 'center', verticalAlign: 'middle' } },
    { type: 'text', x: 710.5, y: 547, z: 5,
      style: { text: 'BLIQ+HO+LO — BLIQ+HO', fill: '#000', fontSize: 15, fontFamily: FONTE, align: 'center', verticalAlign: 'middle' } }
  ],
  series: [
    linhasGrade(0, passos(-0.2, 5.6, 0.2).filter(v => Math.abs(v - Math.round(v)) > 1e-6), [], [0, 1, 2, 3, 4, 5]),
    linhasGrade(1, passos(-1.3, 2.5, 0.1).filter(v => Math.abs(v * 2 - Math.round(v * 2)) > 1e-6), [-0.5, 0.5, 1.5, 2.5], [-1, 0, 1, 2]),
    linhasGrade(2, passos(-0.15, 1.95, 0.05).filter(v => Math.abs(v * 2 - Math.round(v * 2)) > 1e-6), [], [0, 0.5, 1, 1.5]),

    {
      name: 'gc1', type: 'line', data: gc1, xAxisIndex: 0, yAxisIndex: 0, z: 2,
      symbol: symX, symbolSize: 8, showAllSymbol: true,
      itemStyle: { color: '#e2b15e' }, lineStyle: cinzaFino
    },
    {
      name: 'gc2', type: 'line', data: gc2, xAxisIndex: 0, yAxisIndex: 0, z: 2,
      symbol: symMais, symbolSize: 11, showAllSymbol: true,
      itemStyle: { color: '#3b8a8a' }, lineStyle: cinzaFino
    },
    {
      name: 'wfs1', type: 'line', data: wfs1, xAxisIndex: 0, yAxisIndex: 0, z: 2,
      symbol: 'diamond', symbolSize: [10, 11], showAllSymbol: true,
      itemStyle: { color: '#ffb000', borderColor: '#ff2400', borderWidth: 1 }, lineStyle: cinzaFino
    },
    {
      name: 'wfs2', type: 'line', data: wfs2, xAxisIndex: 0, yAxisIndex: 0, z: 2,
      symbol: symTriBaixo, symbolSize: 9,
      itemStyle: { color: '#555566' }, lineStyle: cinzaFino
    },
    {
      name: 'dimm', type: 'line', data: dimm, xAxisIndex: 0, yAxisIndex: 0, z: 2,
      symbol: 'circle', symbolSize: 7.5, showAllSymbol: true,
      itemStyle: { color: '#f2f25a', borderColor: '#0000d8', borderWidth: 1.6 },
      lineStyle: { color: '#0000d8', width: 2 }
    },

    {
      name: 'guider', type: 'line', data: guiderWfs, xAxisIndex: 1, yAxisIndex: 1, z: 2,
      symbol: 'circle', symbolSize: 11.5, showAllSymbol: true,
      itemStyle: { color: '#800080', borderColor: '#eadcf0', borderWidth: 1 },
      lineStyle: { color: '#c8c8c8', width: 1 }
    },
    {
      name: 'guiderFlag', type: 'line', data: guiderFlag, xAxisIndex: 1, yAxisIndex: 1, z: 3,
      symbol: symXGrosso, symbolSize: 11, showAllSymbol: true,
      itemStyle: { color: '#ff0000' },
      lineStyle: { color: '#c8c8c8', width: 1 }
    },

    {
      name: 'bliq', type: 'scatter', data: bliq, xAxisIndex: 2, yAxisIndex: 2, z: 3,
      symbol: 'circle', symbolSize: 11,
      itemStyle: { color: '#000080', borderColor: '#c4c4dc', borderWidth: 1.2, opacity: 1 },
      markArea: {
        z: 0, silent: true,
        itemStyle: { color: 'rgba(255,0,0,0.06)' },
        data: [[{ xAxis: bliqBand[0], yAxis: bliqLimits[0] }, { xAxis: bliqBand[1], yAxis: bliqLimits[1] }]]
      },
      markLine: {
        z: 1, silent: true, symbol: ['none', 'none'], label: { show: false },
        lineStyle: { color: '#8e1010', width: 1.5, type: [4, 2], opacity: 1 },
        data: bliqLimits.map(v => [{ coord: [bliqBand[0], v] }, { coord: [bliqBand[1], v] }])
      }
    }
  ]
});

window.addEventListener('resize', () => myChart.resize());
</script>
</body>
</html>
